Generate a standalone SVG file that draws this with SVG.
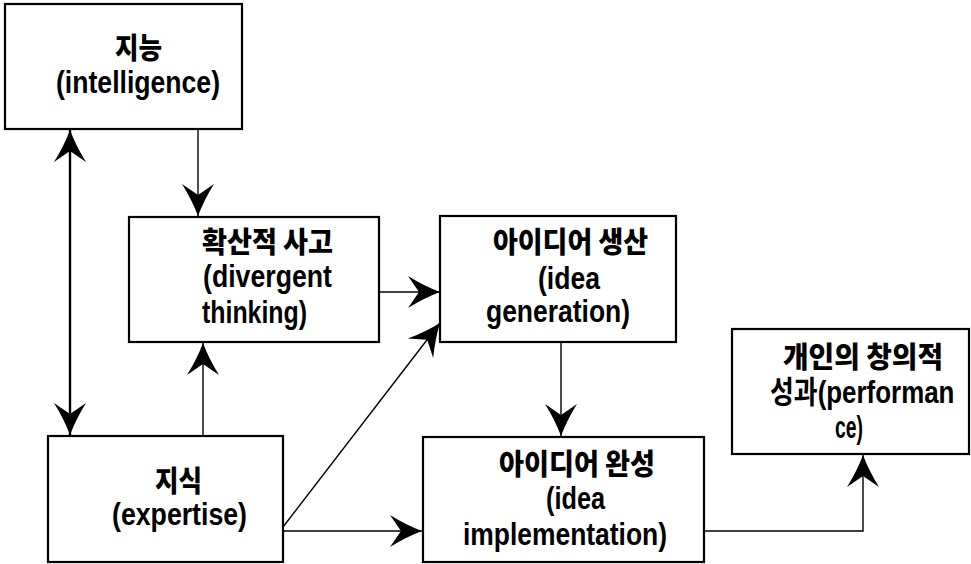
<svg xmlns="http://www.w3.org/2000/svg" width="971" height="564" viewBox="0 0 971 564">
<style>
.box{fill:#fff;stroke:#000;stroke-width:2.2}
.lat{font-family:"Liberation Sans","Noto Sans CJK KR",sans-serif;font-weight:bold;font-size:31px;fill:#000}
.kor{font-family:"Noto Sans CJK KR","Liberation Sans",sans-serif;font-weight:900;font-size:29px;fill:#000}
.con{fill:none;stroke:#000;stroke-width:1.4}
</style>
<defs>
<marker id="ah" viewBox="-33 -17 34 34" markerWidth="34" markerHeight="34" refX="0" refY="0" orient="auto-start-reverse" markerUnits="userSpaceOnUse">
<path d="M0,0 Q-16,-6 -32,-16 L-21,0 L-32,16 Q-16,6 0,0 Z" fill="#000"/>
</marker>
</defs>
<rect width="971" height="564" fill="#fff"/>
<g id="connectors">
<line class="con" x1="198" y1="130" x2="198" y2="216" marker-end="url(#ah)"/>
<line class="con" style="stroke-width:2.4" x1="70" y1="130" x2="70" y2="435" marker-start="url(#ah)" marker-end="url(#ah)"/>
<line class="con" x1="203" y1="436" x2="203" y2="343" marker-end="url(#ah)"/>
<line class="con" x1="379" y1="292" x2="440" y2="292" marker-end="url(#ah)"/>
<line class="con" x1="283" y1="527" x2="440" y2="323" marker-end="url(#ah)"/>
<line class="con" x1="561" y1="342" x2="561" y2="436" marker-end="url(#ah)"/>
<line class="con" x1="283" y1="531" x2="422" y2="531" marker-end="url(#ah)"/>
<path class="con" d="M704,531 H863 V455" marker-end="url(#ah)"/>
</g>
<g id="intelligence">
<rect class="box" x="5" y="4" width="237" height="125"/>
<text class="kor" x="115" y="59" textLength="47" lengthAdjust="spacingAndGlyphs">지능</text>
<text class="lat" x="56" y="93" textLength="164" lengthAdjust="spacingAndGlyphs">(intelligence)</text>
</g>
<g id="divergent">
<rect class="box" x="129" y="217" width="250" height="125"/>
<text class="kor" x="202" y="253" textLength="131" lengthAdjust="spacingAndGlyphs">확산적 사고</text>
<text class="lat" x="203" y="287" textLength="129" lengthAdjust="spacingAndGlyphs">(divergent</text>
<text class="lat" x="202" y="323" textLength="105" lengthAdjust="spacingAndGlyphs">thinking)</text>
</g>
<g id="generation">
<rect class="box" x="440" y="216" width="236" height="126"/>
<text class="kor" x="493" y="253" textLength="155" lengthAdjust="spacingAndGlyphs">아이디어 생산</text>
<text class="lat" x="538" y="289" textLength="62" lengthAdjust="spacingAndGlyphs">(idea</text>
<text class="lat" x="486" y="322" textLength="144" lengthAdjust="spacingAndGlyphs">generation)</text>
</g>
<g id="expertise">
<rect class="box" x="48" y="436" width="235" height="126"/>
<text class="kor" x="155" y="492" textLength="47" lengthAdjust="spacingAndGlyphs">지식</text>
<text class="lat" x="112" y="525" textLength="135" lengthAdjust="spacingAndGlyphs">(expertise)</text>
</g>
<g id="implementation">
<rect class="box" x="423" y="437" width="281" height="125"/>
<text class="kor" x="499" y="475" textLength="156" lengthAdjust="spacingAndGlyphs">아이디어 완성</text>
<text class="lat" x="546" y="509" textLength="59" lengthAdjust="spacingAndGlyphs">(idea</text>
<text class="lat" x="463" y="545" textLength="204" lengthAdjust="spacingAndGlyphs">implementation)</text>
</g>
<g id="performance">
<rect class="box" x="732" y="329" width="237" height="125"/>
<text class="kor" x="783" y="368" textLength="160" lengthAdjust="spacingAndGlyphs">개인의 창의적</text>
<text class="lat" transform="matrix(0.836 0 0 1 770 403)">성과(performan</text>
<text class="lat" x="835" y="438" textLength="28" lengthAdjust="spacingAndGlyphs">ce)</text>
</g>
</svg>
